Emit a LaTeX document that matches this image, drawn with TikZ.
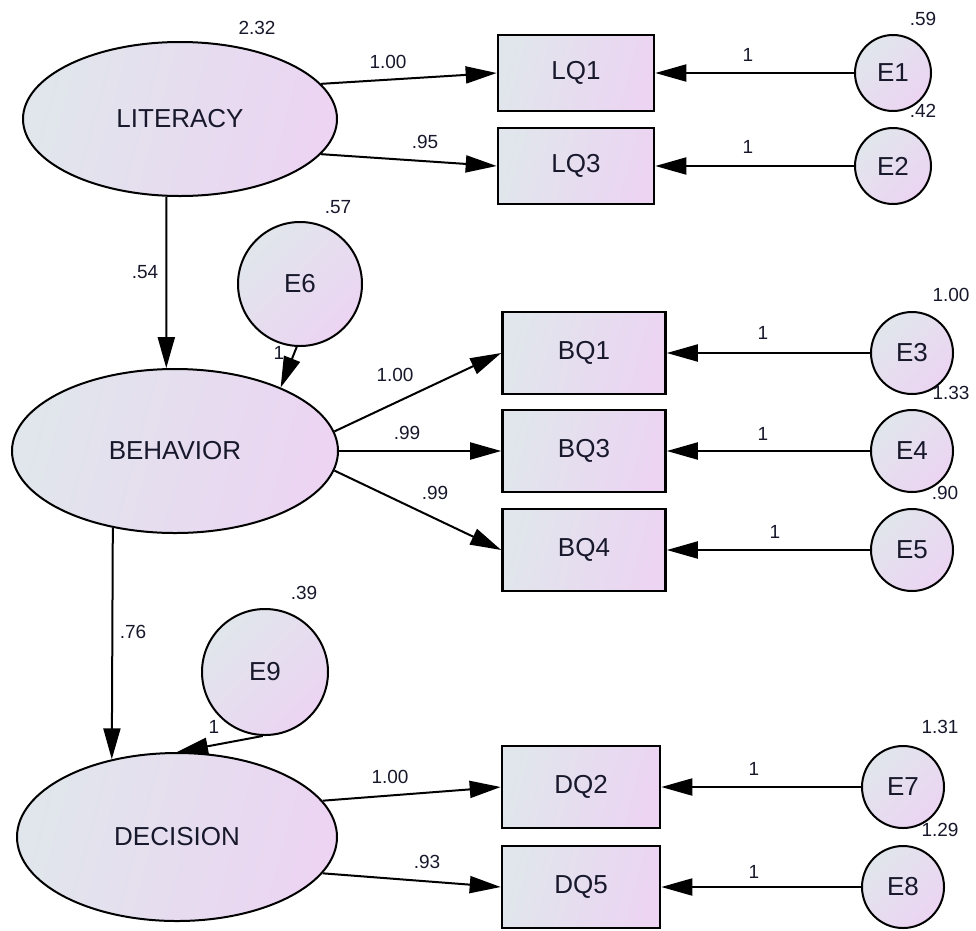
\documentclass[tikz,border=0pt]{standalone}
\usepackage{fontspec}
\setmainfont{Liberation Sans}
\usetikzlibrary{arrows.meta,positioning,shapes.geometric}

\definecolor{shadeL}{RGB}{224,230,236}
\definecolor{shadeR}{RGB}{236,212,242}
\definecolor{ink}{RGB}{24,24,44}

\tikzset{
  latent/.style={ellipse, draw, line width=2pt, left color=shadeL, right color=shadeR,
    shading angle=75, inner sep=0pt, text=ink, font=\fontsize{26}{30}\selectfont},
  observed/.style={rectangle, draw, line width=2.6pt, left color=shadeL, right color=shadeR,
    shading angle=75, inner sep=0pt, text=ink, font=\fontsize{26}{30}\selectfont},
  errterm/.style={circle, draw, line width=2pt, left color=shadeL, right color=shadeR,
    shading angle=45, inner sep=0pt, text=ink, font=\fontsize{26}{30}\selectfont},
  est/.style={inner sep=0pt, text=ink, font=\fontsize{19}{22}\selectfont},
  path/.style={line width=2pt, -{Triangle[length=31pt,width=17pt]}},
}

\begin{document}
\begin{tikzpicture}[x=1pt,y=-1pt]
\useasboundingbox (0,0) rectangle (976,930);

% Latent variables
\node[latent, minimum width=314pt, minimum height=154pt] (lit) at (180,119) {LITERACY};
\node[latent, minimum width=326pt, minimum height=164pt] (beh) at (175,451) {BEHAVIOR};
\node[latent, minimum width=320pt, minimum height=168pt] (dec) at (177,837) {DECISION};

% Items
\node[observed, minimum width=156pt, minimum height=76pt] (lq1) at (576,73) {LQ1};
\node[observed, minimum width=156pt, minimum height=76pt] (lq3) at (576,166) {LQ3};
\node[observed, minimum width=163pt, minimum height=82pt] (bq1) at (584,353) {BQ1};
\node[observed, minimum width=163pt, minimum height=82pt] (bq3) at (584,451) {BQ3};
\node[observed, minimum width=163pt, minimum height=82pt] (bq4) at (584,550) {BQ4};
\node[observed, minimum width=158pt, minimum height=82pt] (dq2) at (581,787) {DQ2};
\node[observed, minimum width=158pt, minimum height=82pt] (dq5) at (581,887) {DQ5};

% Error terms
\node[errterm, minimum size=76pt] (e1) at (893,73) {E1};
\node[errterm, minimum size=76pt] (e2) at (893,166) {E2};
\node[errterm, minimum size=82pt] (e3) at (912,353) {E3};
\node[errterm, minimum size=82pt] (e4) at (912,451) {E4};
\node[errterm, minimum size=82pt] (e5) at (912,550) {E5};
\node[errterm, minimum size=82pt] (e7) at (903,787) {E7};
\node[errterm, minimum size=82pt] (e8) at (903,887) {E8};
\node[errterm, minimum size=124pt] (e6) at (300,284) {E6};
\node[errterm, minimum size=126pt] (e9) at (265,672) {E9};

% Paths
\draw[path] (lit.14) -- (lq1.west);
\draw[path] (lit.-14) -- (lq3.west);
\draw[path] (lit.260) -- (beh.96);
\draw[path] (e6.267) -- (beh.31);
\draw[path] (beh.7.5) -- (bq1.west);
\draw[path] (beh.east) -- (bq3.west);
\draw[path] (beh.-7.5) -- (bq4.west);
\draw[path] (beh.231) -- (dec.130);
\draw[path] (e9.268) -- (dec.north);
\draw[path] (dec.14.5) -- (dq2.west);
\draw[path] (dec.-14.5) -- (dq5.west);
\draw[path] (e1) -- (lq1);
\draw[path] (e2) -- (lq3);
\draw[path] (e3) -- (bq1);
\draw[path] (e4) -- (bq3);
\draw[path] (e5) -- (bq4);
\draw[path] (e7) -- (dq2);
\draw[path] (e8) -- (dq5);

% Estimates -- variances
\node[est] (v-lit) at (257,28) {2.32};
\node[est] (v-e1) at (923,19) {.59};
\node[est] (v-e2) at (923,111) {.42};
\node[est] (v-e6) at (338,207) {.57};
\node[est] (v-e3) at (951,295) {1.00};
\node[est] (v-e4) at (951,393) {1.33};
\node[est] (v-e5) at (945,493) {.90};
\node[est] (v-e9) at (304,593) {.39};
\node[est] (v-e7) at (940,727) {1.31};
\node[est] (v-e8) at (940,830) {1.29};

% Estimates -- weights
\node[est] (w-lq1) at (388,62) {1.00};
\node[est] (w-lq3) at (425,142) {.95};
\node[est] (w-beh) at (145,272) {.54};
\node[est] (w-e6) at (279,353) {1};
\node[est] (w-bq1) at (395,375) {1.00};
\node[est] (w-bq3) at (407,433) {.99};
\node[est] (w-bq4) at (435,493) {.99};
\node[est] (w-dec) at (133,632) {.76};
\node[est] (w-e9) at (214,727) {1};
\node[est] (w-dq2) at (390,777) {1.00};
\node[est] (w-dq5) at (427,862) {.93};
\node[est] (w-e1) at (748,55) {1};
\node[est] (w-e2) at (748,147) {1};
\node[est] (w-e3) at (763,333) {1};
\node[est] (w-e4) at (763,434) {1};
\node[est] (w-e5) at (775,532) {1};
\node[est] (w-e7) at (754,769) {1};
\node[est] (w-e8) at (754,872) {1};
\end{tikzpicture}
\end{document}
